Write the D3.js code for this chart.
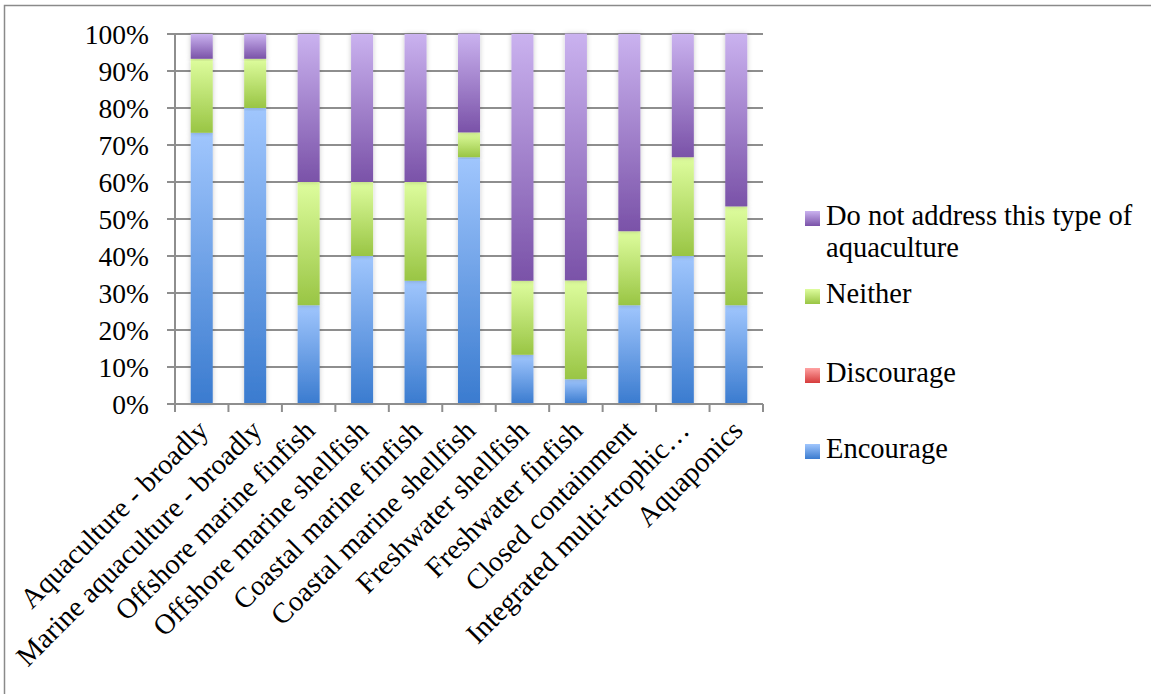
<!DOCTYPE html>
<html>
<head>
<meta charset="utf-8">
<script src="https://cdn.jsdelivr.net/npm/d3@7"></script>
<style>
  body { margin: 0; background: #fff; }
  svg text { font-family: "Liberation Serif", "Times New Roman", serif; fill: #000; }
</style>
</head>
<body>
<script>
(function() {

    const width = 1151;
    const height = 694;

    // categories along the x axis
    const categories = [
        "Aquaculture - broadly",
        "Marine aquaculture - broadly",
        "Offshore marine finfish",
        "Offshore marine shellfish",
        "Coastal marine finfish",
        "Coastal marine shellfish",
        "Freshwater shellfish",
        "Freshwater finfish",
        "Closed containment",
        "Integrated multi-trophic\u2026",
        "Aquaponics"
    ];

    // series, in stacking order (bottom first), shares in %
    const seriesNames = ["Encourage", "Discourage", "Neither", "Do not address this type of aquaculture"];
    const encourage  = [73.3, 80.0, 26.7, 40.0, 33.3, 66.7, 13.3, 6.7, 26.7, 40.0, 26.7];
    const discourage = [0, 0, 0, 0, 0, 0, 0, 0, 0, 0, 0];
    const neither    = [20.0, 13.3, 33.3, 20.0, 26.7, 6.7, 20.0, 26.7, 20.0, 26.7, 26.7];
    const doNot      = [6.7, 6.7, 40.0, 40.0, 40.0, 26.7, 66.7, 66.7, 53.3, 33.3, 46.7];

    const yTicks = [0, 10, 20, 30, 40, 50, 60, 70, 80, 90, 100];

    // gradient stops: light top, dark bottom
    const gradients = {
        "Encourage": ["#a0c6fd", "#3a7bcf"],
        "Discourage": ["#ffa2a2", "#d63c3c"],
        "Neither": ["#defd9e", "#99c544"],
        "Do not address this type of aquaculture": ["#cab2ef", "#7a52a8"]
    };

    const margin = {left: 175, top: 34, right: 388, bottom: 290};
    const plotW = width - margin.left - margin.right;
    const plotH = height - margin.top - margin.bottom;

    const rows = categories.map((c, i) => ({
        category: c,
        "Encourage": encourage[i],
        "Discourage": discourage[i],
        "Neither": neither[i],
        "Do not address this type of aquaculture": doNot[i]
    }));

    const stacked = d3.stack().keys(seriesNames)(rows);

    const x = d3.scaleBand()
        .domain(categories)
        .range([0, plotW])
        .paddingInner(0.588)
        .paddingOuter(0.294);

    const y = d3.scaleLinear()
        .domain([0, 100])
        .range([plotH, 0]);

    const svg = d3.select("body")
        .append("svg")
        .attr("width", width)
        .attr("height", height);

    const defs = svg.append("defs");
    seriesNames.forEach((name, k) => {
        let g = defs.append("linearGradient")
            .attr("id", "grad" + k)
            .attr("x1", 0).attr("y1", 0)
            .attr("x2", 0).attr("y2", 1);
        g.append("stop").attr("offset", "0%").attr("stop-color", gradients[name][0]);
        g.append("stop").attr("offset", "100%").attr("stop-color", gradients[name][1]);
    });

    let shadow = defs.append("filter")
        .attr("id", "shadow")
        .attr("x", "-50%").attr("y", "-5%")
        .attr("width", "200%").attr("height", "110%");
    shadow.append("feDropShadow")
        .attr("dx", 0).attr("dy", 0)
        .attr("stdDeviation", 2.5)
        .attr("flood-color", "#000")
        .attr("flood-opacity", 0.22);

    // outer frame (only top and left edges fall inside the picture)
    svg.append("rect")
        .attr("x", 4.5).attr("y", 5.5)
        .attr("width", width + 10).attr("height", height + 10)
        .attr("fill", "none")
        .attr("stroke", "#8a8a8a")
        .attr("stroke-width", 1.5);

    const plot = svg.append("g")
        .attr("transform", "translate(" + margin.left + "," + margin.top + ")");

    // gridlines
    plot.append("g")
        .selectAll("line")
        .data(yTicks)
        .enter()
        .append("line")
        .attr("x1", -8)
        .attr("x2", plotW)
        .attr("y1", d => y(d))
        .attr("y2", d => y(d))
        .attr("stroke", "#8e8e8e")
        .attr("stroke-width", 2);

    // y axis labels
    plot.append("g")
        .selectAll("text")
        .data(yTicks)
        .enter()
        .append("text")
        .attr("x", -26)
        .attr("y", d => y(d))
        .attr("dy", "0.35em")
        .attr("text-anchor", "end")
        .style("font-size", "27.5px")
        .text(d => d + "%");

    // bars
    const layers = plot.append("g")
        .selectAll("g")
        .data(stacked)
        .enter()
        .append("g")
        .attr("fill", (d, k) => "url(#grad" + k + ")");

    layers.selectAll("rect")
        .data(d => d)
        .enter()
        .append("rect")
        .attr("x", d => x(d.data.category))
        .attr("width", x.bandwidth())
        .attr("y", d => y(d[1]))
        .attr("height", d => y(d[0]) - y(d[1]))
        .attr("filter", "url(#shadow)");

    // axes lines
    plot.append("line")
        .attr("x1", 0).attr("x2", 0)
        .attr("y1", 0).attr("y2", plotH)
        .attr("stroke", "#8e8e8e")
        .attr("stroke-width", 2);

    plot.append("line")
        .attr("x1", 0).attr("x2", plotW)
        .attr("y1", plotH).attr("y2", plotH)
        .attr("stroke", "#8e8e8e")
        .attr("stroke-width", 2);

    // category boundary ticks
    const step = x.step();
    plot.append("g")
        .selectAll("line")
        .data(d3.range(categories.length + 1))
        .enter()
        .append("line")
        .attr("x1", i => i * step)
        .attr("x2", i => i * step)
        .attr("y1", plotH)
        .attr("y2", plotH + 8)
        .attr("stroke", "#8e8e8e")
        .attr("stroke-width", 2);

    // rotated category labels
    plot.append("g")
        .selectAll("text")
        .data(categories)
        .enter()
        .append("text")
        .attr("text-anchor", "end")
        .attr("dy", "0.35em")
        .attr("transform", d => {
            let cx = x(d) + x.bandwidth() / 2 + 1;
            return "translate(" + cx + "," + (plotH + 21) + ") rotate(-45)";
        })
        .style("font-size", "28.5px")
        .text(d => d);

    // legend
    const legendNames = seriesNames.slice().reverse();
    const legendY = [225, 303, 382, 458];
    const legend = svg.append("g")
        .selectAll("g")
        .data(legendNames)
        .enter()
        .append("g")
        .attr("transform", (d, i) => "translate(805," + legendY[i] + ")");

    legend.append("rect")
        .attr("x", 0)
        .attr("y", -14)
        .attr("width", 15)
        .attr("height", 15)
        .attr("fill", d => "url(#grad" + seriesNames.indexOf(d) + ")");

    legend.append("text")
        .attr("x", 21)
        .attr("y", 0)
        .style("font-size", "28.5px")
        .each(function(d) {
            let lines = d === "Do not address this type of aquaculture"
                ? ["Do not address this type of", "aquaculture"] : [d];
            lines.forEach((t, j) => {
                d3.select(this).append("tspan")
                    .attr("x", 21)
                    .attr("dy", j === 0 ? 0 : 32)
                    .text(t);
            });
        });

})();
</script>
</body>
</html>
